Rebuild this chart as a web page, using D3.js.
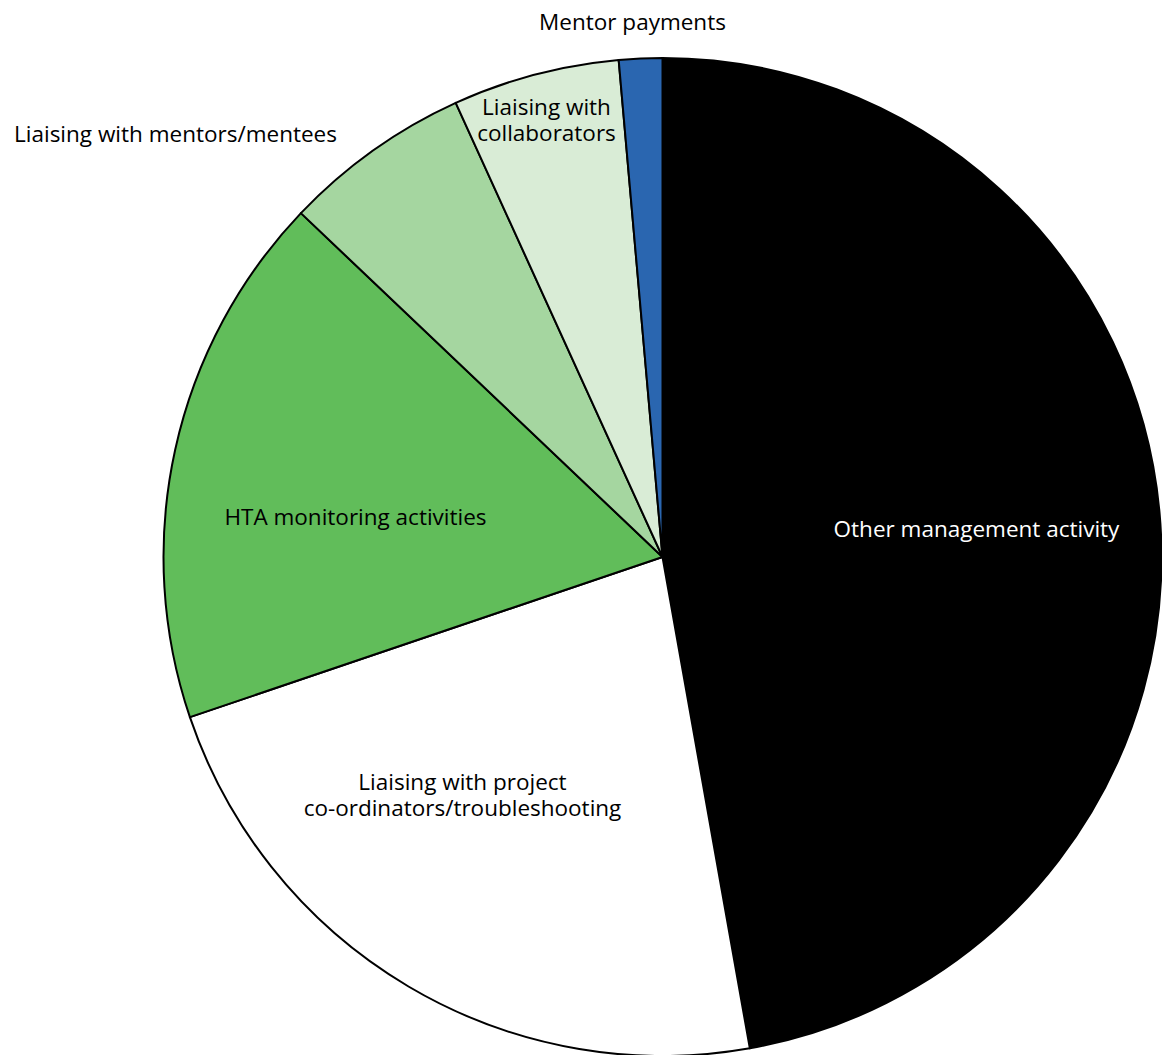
<!DOCTYPE html>
<html><head><meta charset="utf-8">
<script src="https://cdn.jsdelivr.net/npm/d3@7"></script>
<style>html,body{margin:0;padding:0;background:#fff;}</style>
</head><body>
<svg id="chart" width="1162" height="1055"></svg>
<script>
const categories = ["Other management activity","Liaising with project co-ordinators/troubleshooting","HTA monitoring activities","Liaising with mentors/mentees","Liaising with collaborators","Mentor payments"];
const values = [47.2, 22.6, 17.3, 6.1, 5.4, 1.4];
const colors = ["#000000","#ffffff","#61bd5a","#a5d6a0","#d9ecd6","#2a66b0"];
const labelLines = [["Other management activity"],["Liaising with project","co-ordinators/troubleshooting"],["HTA monitoring activities"],["Liaising with mentors/mentees"],["Liaising with","collaborators"],["Mentor payments"]];
const labelColors = ["#ffffff","#000","#000","#000","#000","#000"];

const cx = 662.5, cy = 557, r = 499;
const svg = d3.select("#chart");
const g = svg.append("g").attr("transform",`translate(${cx},${cy})`);
const data = categories.map((c,i)=>({c, v: values[i], i}));
const pie = d3.pie().sort(null).value(d=>d.v);
const arc = d3.arc().innerRadius(0).outerRadius(r);
const arcs = pie(data);
g.selectAll("path").data(arcs).join("path")
  .attr("d", arc).attr("fill", d=>colors[d.data.i])
  .attr("stroke","#000").attr("stroke-width",2).attr("stroke-linejoin","round");

// label anchor positions relative to pie centre (baseline of first line)
const labelPos = [[314,-20],[-200,233],[-307,-32],[-487,-415],[-116,-442],[-30,-527]];
const fontSize = 22.5, lh = 26;
const tg = svg.append("g").attr("font-family","'Open Sans', 'Noto Sans', sans-serif").attr("font-size",fontSize);
arcs.forEach((a,k)=>{
  const i = a.data.i;
  const [dx,dy] = labelPos[i];
  const t = tg.append("text").attr("text-anchor","middle").attr("fill",labelColors[i]);
  labelLines[i].forEach((ln,j)=>{
    t.append("tspan").attr("x",cx+dx).attr("y",cy+dy+j*lh).text(ln);
  });
});
</script>
</body></html>
